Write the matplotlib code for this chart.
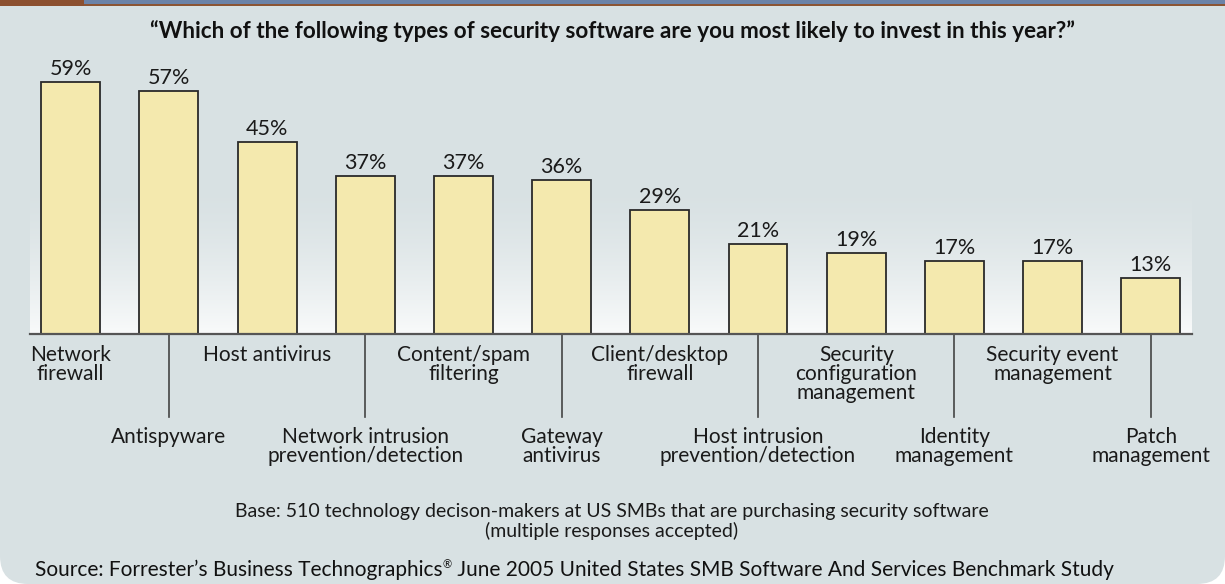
import matplotlib.pyplot as plt
import numpy as np
from matplotlib.patches import Rectangle, FancyBboxPatch

categories = ['Network\nfirewall', 'Antispyware', 'Host antivirus',
              'Network intrusion\nprevention/detection', 'Content/spam\nfiltering',
              'Gateway\nantivirus', 'Client/desktop\nfirewall',
              'Host intrusion\nprevention/detection',
              'Security\nconfiguration\nmanagement', 'Identity\nmanagement',
              'Security event\nmanagement', 'Patch\nmanagement']
values = [59, 57, 45, 37, 37, 36, 29, 21, 19, 17, 17, 13]

title = '\u201cWhich of the following types of security software are you most likely to invest in this year?\u201d'
base_note = 'Base: 510 technology decison-makers at US SMBs that are purchasing security software\n(multiple responses accepted)'
source_parts = ['Source: Forrester\u2019s Business Technographics', '\u00ae',
                ' June 2005 United States SMB Software And Services Benchmark Study']

bg = '#d8e1e3'
bar_col = '#f4e9ae'
W, H = 1225, 584

plt.rcParams['font.family'] = ['Lato', 'DejaVu Sans']

fig = plt.figure(figsize=(W / 100, H / 100), dpi=100)
fig.patch.set_facecolor('white')

# panel with rounded bottom corners
panel = FancyBboxPatch((0, 0), W / 100, H / 100 + 0.5,
                       boxstyle='round,pad=0,rounding_size=0.28',
                       transform=fig.dpi_scale_trans, facecolor=bg,
                       edgecolor='none', zorder=-3)
fig.patches.append(panel)

# top stripes
def px_rect(x, y, w, h, color):
    fig.patches.append(Rectangle((x / W, 1 - (y + h) / H), w / W, h / H,
                                 transform=fig.transFigure, facecolor=color,
                                 edgecolor='none', zorder=-2))

px_rect(84, 0, W - 84, 4, '#6c83a8')
px_rect(84, 4, W - 84, 2, '#8c5534')
px_rect(0, 0, 84, 6, '#8c5030')

base_y = 334
ymax = 64
px_per = 4.27
top_y = base_y - ymax * px_per
ax = fig.add_axes([30 / W, 1 - base_y / H, (1192 - 30) / W, (base_y - top_y) / H])
ax.set_xlim(-0.415, len(values) - 1 + 0.42)
ax.set_ylim(0, ymax)
ax.patch.set_visible(False)

# soft white glow rising from the baseline
t = np.linspace(0, 1, 300)
alpha = (1 - t) ** 1.6 * 0.85
glow = np.ones((300, 1, 4))
glow[:, 0, 3] = alpha
ax.imshow(glow, extent=[-0.415, len(values) - 0.58, 0, 36], origin='lower',
          aspect='auto', zorder=0, interpolation='bilinear')

x = np.arange(len(values))
ax.bar(x, values, width=0.6, color=bar_col, edgecolor='#2a2a2a',
       linewidth=1.3, zorder=2)

for xi, v in zip(x, values):
    ax.annotate(f'{v}%', (xi, v), xytext=(0, 3), textcoords='offset pixels',
                ha='center', va='bottom', fontsize=15.5, color='#1a1a1a')

for s in ['top', 'right', 'left']:
    ax.spines[s].set_visible(False)
ax.spines['bottom'].set_color('#555555')
ax.spines['bottom'].set_linewidth(1.6)
ax.spines['bottom'].set_zorder(3)
ax.set_xticks([])
ax.set_yticks([])

trans = ax.get_xaxis_transform()
axh = base_y - top_y
for i, lab in enumerate(categories):
    if i % 2 == 0:
        ax.annotate(lab, (i, 0), xycoords=trans, xytext=(0, -11),
                    textcoords='offset pixels', ha='center', va='top',
                    fontsize=15, color='#1a1a1a', linespacing=0.95)
    else:
        ax.plot([i, i], [0, -83 / axh], transform=trans, color='#444444',
                linewidth=1.2, clip_on=False, zorder=3)
        ax.annotate(lab, (i, 0), xycoords=trans, xytext=(0, -93),
                    textcoords='offset pixels', ha='center', va='top',
                    fontsize=15, color='#1a1a1a', linespacing=0.95)

fig.text(612 / W, 1 - 38 / H, title, ha='center', va='baseline',
         fontsize=16.2, fontweight='bold', color='#111111')
fig.text(612 / W, 1 - 503 / H, base_note, ha='center', va='top',
         fontsize=14, color='#1a1a1a', linespacing=1.1)

# source line with a small superscript registered sign
renderer = fig.canvas.get_renderer()
xpos = 35
for k, part in enumerate(source_parts):
    if k == 1:
        tx = fig.text(xpos / W, 1 - 568 / H, part, ha='left', va='baseline',
                      fontsize=8, color='#111111')
    else:
        tx = fig.text(xpos / W, 1 - 576 / H, part, ha='left', va='baseline',
                      fontsize=15, color='#111111')
    xpos += tx.get_window_extent(renderer).width

fig.savefig('out.png', dpi=100, facecolor=fig.get_facecolor())
